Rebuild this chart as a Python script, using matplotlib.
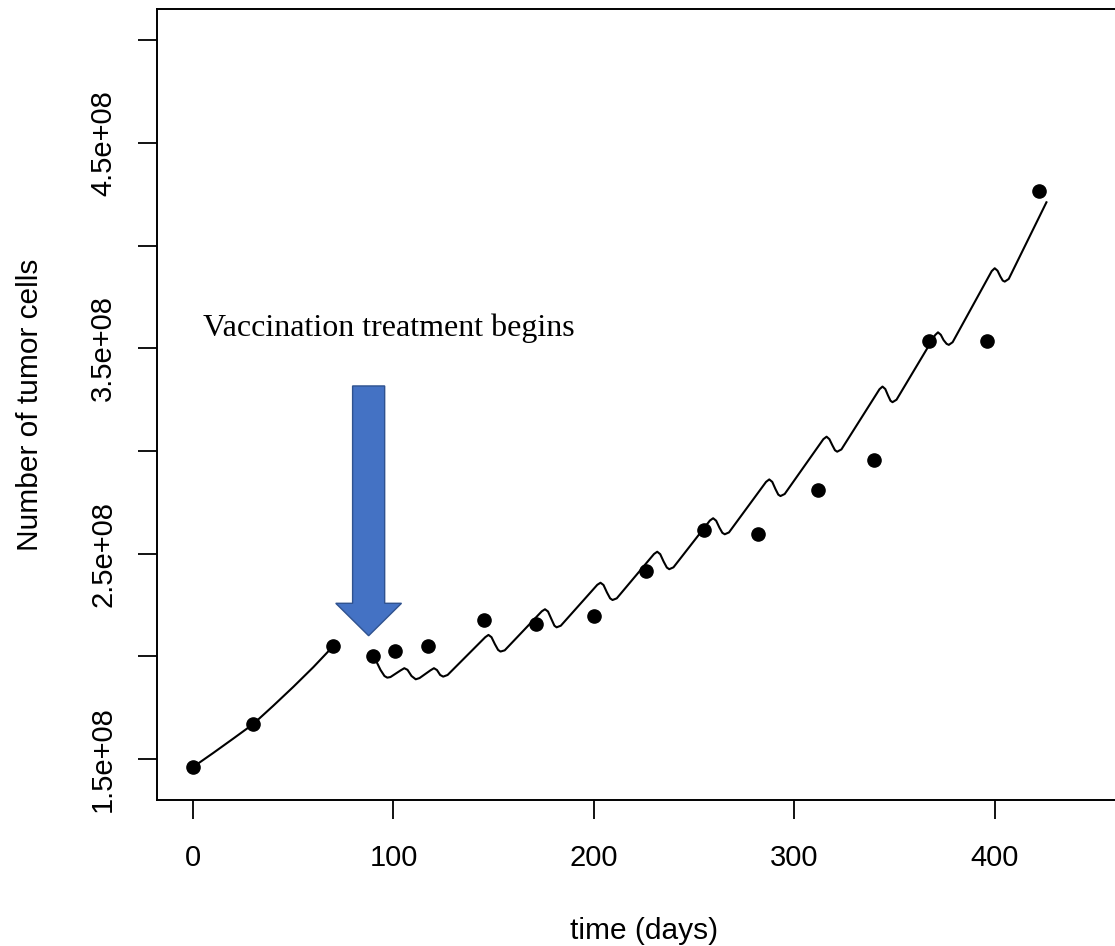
import matplotlib
matplotlib.use('Agg')
import matplotlib.pyplot as plt
from matplotlib.patches import FancyArrow

# observed tumour counts (days, cells / 1e8)
obs_days = [0, 30, 70, 90, 101, 117, 145, 171, 200, 226, 255, 282, 312, 340, 367, 396, 422]
obs_cells = [1.462, 1.671, 2.051, 2.000, 2.029, 2.049, 2.180, 2.160, 2.199, 2.416, 2.614, 2.595,
             2.810, 2.956, 3.537, 3.537, 4.264]

# model fit before vaccination
pre_days = [0, 10, 20, 30, 40, 50, 60, 70]
pre_cells = [1.462, 1.530, 1.600, 1.671, 1.760, 1.852, 1.948, 2.051]

# model fit during vaccination
vac_days = [89.8, 91.5, 93.5, 95.5, 96.9, 98.5, 103.5, 105.4, 107.0, 109.0, 111.1, 113.0,
            118.5, 120.2, 121.7, 123.3, 124.8, 127.0,
            145.8, 147.4, 148.9, 150.6, 152.2, 153.4, 155.5,
            174.0, 175.6, 177.1, 178.8, 180.3, 181.4, 183.5,
            201.7, 203.3, 204.8, 206.5, 208.1, 209.3, 211.4,
            230.0, 231.6, 233.1, 234.8, 236.4, 237.6, 239.7,
            257.9, 259.5, 261.0, 262.6, 264.1, 265.3, 267.4,
            285.9, 287.5, 289.0, 290.6, 292.0, 293.1, 295.2,
            314.5, 316.1, 317.5, 319.0, 320.3, 321.4, 323.5,
            342.5, 344.0, 345.4, 346.7, 348.0, 349.0, 351.0,
            370.3, 371.7, 373.1, 374.5, 376.0, 377.1, 379.0,
            398.5, 400.0, 401.4, 402.8, 404.0, 405.0, 407.0,
            425.8]
vac_cells = [2.000, 1.975, 1.935, 1.905, 1.897, 1.900, 1.932, 1.943, 1.935, 1.905, 1.889, 1.895,
             1.933, 1.943, 1.934, 1.910, 1.902, 1.910,
             2.094, 2.105, 2.094, 2.060, 2.032, 2.024, 2.030,
             2.220, 2.230, 2.219, 2.182, 2.150, 2.142, 2.150,
             2.349, 2.359, 2.348, 2.312, 2.283, 2.275, 2.283,
             2.499, 2.510, 2.498, 2.462, 2.433, 2.425, 2.434,
             2.662, 2.673, 2.661, 2.628, 2.602, 2.595, 2.604,
             2.850, 2.862, 2.850, 2.815, 2.788, 2.781, 2.791,
             3.058, 3.070, 3.058, 3.028, 3.004, 2.997, 3.008,
             3.301, 3.314, 3.302, 3.272, 3.245, 3.238, 3.250,
             3.565, 3.578, 3.566, 3.540, 3.522, 3.517, 3.530,
             3.876, 3.890, 3.878, 3.850, 3.830, 3.825, 3.838,
             4.211]

x_ticks = [0, 100, 200, 300, 400]
y_ticks = [1.5, 2.0, 2.5, 3.0, 3.5, 4.0, 4.5, 5.0]
y_labels = ['1.5e+08', '', '2.5e+08', '', '3.5e+08', '', '4.5e+08', '']

E8 = 1e8
plt.rcParams['font.family'] = ['Liberation Sans', 'DejaVu Sans']

fig = plt.figure(figsize=(11.15, 9.46), dpi=100)
ax = fig.add_axes([157 / 1115, 146 / 946, 974 / 1115, 791 / 946])

ax.plot(pre_days, [v * E8 for v in pre_cells], color='black', lw=1.5)
ax.plot(vac_days, [v * E8 for v in vac_cells], color='black', lw=1.5)
ax.plot(obs_days, [v * E8 for v in obs_cells], 'o', color='black', ms=9.5)

# arrow marking the start of treatment
ax.add_patch(FancyArrow(87.6, 3.317 * E8, 0, -(3.317 - 2.101) * E8, width=16, head_width=32.8,
                        head_length=0.158 * E8, length_includes_head=True,
                        facecolor='#4472C4', edgecolor='#2F528F', lw=1))
ax.text(5, 3.599 * E8, 'Vaccination treatment begins', family='Liberation Serif',
        fontsize=23, ha='left', va='center')

ax.set_xlim(-18, 468)
ax.set_ylim(1.3014 * E8, 5.152 * E8)
ax.set_xticks(x_ticks)
ax.set_yticks([v * E8 for v in y_ticks])
ax.set_yticklabels(y_labels, rotation=90, va='center')
ax.tick_params(axis='both', length=13.7, width=1.3, labelsize=21)
ax.tick_params(axis='x', pad=18)
ax.tick_params(axis='y', pad=15)
for s in ax.spines.values():
    s.set_linewidth(1.4)

fig.text(30 / 1115, 1 - 405 / 946, 'Number of tumor cells', rotation=90,
         ha='center', va='center', fontsize=21.5)
fig.text(644 / 1115, 1 - 931 / 946, 'time (days)', ha='center', va='center', fontsize=21.5)

fig.savefig('out.png', dpi=100, facecolor='white')
